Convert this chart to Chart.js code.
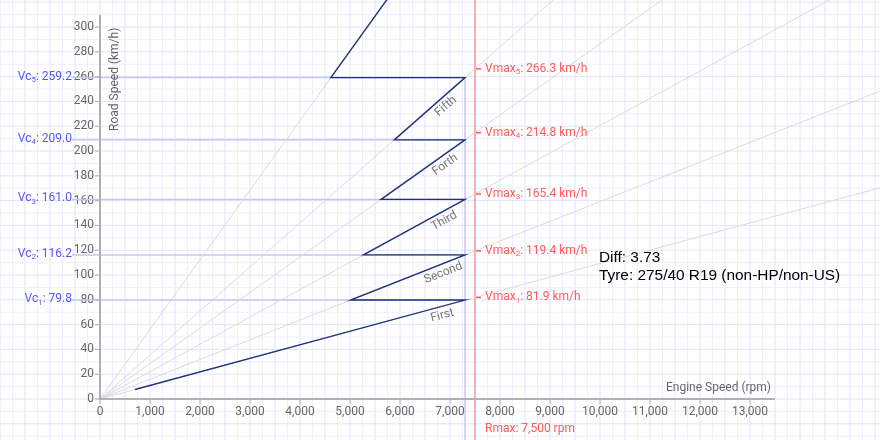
<!DOCTYPE html>
<html>
<head>
<meta charset="utf-8">
<script src="https://cdn.jsdelivr.net/npm/chart.js@4"></script>
<style>
  html, body { margin: 0; padding: 0; background: #fff; }
  canvas { display: block; }
</style>
</head>
<body>
<canvas id="chart" width="880" height="440"></canvas>
<script>
// gearing data
const gearNames = ['First', 'Second', 'Third', 'Forth', 'Fifth', 'Sixth'];
const vmaxKmh = [81.9, 119.4, 165.4, 214.8, 266.3, 421.0];   // road speed at redline per gear
const shiftSpeeds = [79.8, 116.2, 161.0, 209.0, 259.2];      // Vc: speed at each upshift
const idleRpm = 700;
const shiftRpm = 7300;
const redlineRpm = 7500;
const xTicks = [0, 1000, 2000, 3000, 4000, 5000, 6000, 7000, 8000, 9000, 10000, 11000, 12000, 13000];
const yTicks = [0, 20, 40, 60, 80, 100, 120, 140, 160, 180, 200, 220, 240, 260, 280, 300];
const xAxisEnd = 13500;
const yAxisEnd = 310;
const diffRatio = 3.73;
const tyreSpec = '275/40 R19 (non-HP/non-US)';

const FONT = 'Roboto, "Noto Sans", sans-serif';
const NAVY = '#22337c';
const RED = '#ff5a5a';
const BLUE = '#5656f2';

// km/h per rpm for each gear
const kmhPerRpm = vmaxKmh.map(v => v / redlineRpm);

// the sawtooth: up each gear to the shift point, across to the next gear
function buildSawtooth() {
	const pts = [{x: idleRpm, y: kmhPerRpm[0] * idleRpm}];
	shiftSpeeds.forEach((v, i) => {
		pts.push({x: shiftRpm, y: v});
		pts.push({x: v / kmhPerRpm[i + 1], y: v});
	});
	const last = kmhPerRpm.length - 1;
	pts.push({x: shiftRpm, y: kmhPerRpm[last] * shiftRpm});
	return pts;
}

const xMax = 15600;
const yMax = 321.8;

const ratioSets = kmhPerRpm.map(k => ({
	data: [{x: 0, y: 0}, {x: xMax, y: k * xMax}],
	showLine: true,
	borderColor: '#dadada',
	borderWidth: 1,
	pointRadius: 0,
	order: 2
}));

const gearSet = {
	data: buildSawtooth(),
	showLine: true,
	borderColor: NAVY,
	borderWidth: 1.4,
	pointRadius: 0,
	tension: 0,
	order: 1
};

// text with a subscript in the middle, e.g. Vmax₅: 266.3 km/h
function drawSubText(ctx, main, sub, rest, x, y, align) {
	ctx.font = '12px ' + FONT;
	const w1 = ctx.measureText(main).width;
	const w3 = ctx.measureText(rest).width;
	ctx.font = '8px ' + FONT;
	const w2 = ctx.measureText(sub).width;
	let cx = align === 'right' ? x - (w1 + w2 + w3) : x;
	ctx.textAlign = 'left';
	ctx.textBaseline = 'middle';
	ctx.font = '12px ' + FONT;
	ctx.fillText(main, cx, y);
	cx += w1;
	ctx.font = '8px ' + FONT;
	ctx.fillText(sub, cx, y + 3.5);
	cx += w2;
	ctx.font = '12px ' + FONT;
	ctx.fillText(rest, cx, y);
}

const paperPlugin = {
	id: 'paper',
	beforeDraw(chart) {
		const ctx = chart.ctx, xs = chart.scales.x, ys = chart.scales.y;
		ctx.save();
		ctx.fillStyle = '#fff';
		ctx.fillRect(0, 0, chart.width, chart.height);
		ctx.lineWidth = 1;
		for (let r = -2500; r <= 16000; r += 250) {
			const px = xs.getPixelForValue(r);
			ctx.strokeStyle = (r % 500 === 0) ? '#e3e3fb' : '#eeeefd';
			ctx.beginPath();
			ctx.moveTo(px, 0);
			ctx.lineTo(px, chart.height);
			ctx.stroke();
		}
		for (let v = -50; v <= 340; v += 10) {
			const py = ys.getPixelForValue(v);
			ctx.strokeStyle = (v % 20 === 0) ? '#e3e3fb' : '#eeeefd';
			ctx.beginPath();
			ctx.moveTo(0, py);
			ctx.lineTo(chart.width, py);
			ctx.stroke();
		}
		ctx.restore();
	},
	beforeDatasetsDraw(chart) {
		const ctx = chart.ctx, xs = chart.scales.x, ys = chart.scales.y;
		const xShift = xs.getPixelForValue(shiftRpm);
		ctx.save();
		// Vc lines and the shift rpm line
		ctx.strokeStyle = '#c6c6f6';
		ctx.lineWidth = 1.5;
		shiftSpeeds.forEach(v => {
			const py = ys.getPixelForValue(v);
			ctx.beginPath();
			ctx.moveTo(xs.left - 28, py);
			ctx.lineTo(xShift, py);
			ctx.stroke();
		});
		ctx.beginPath();
		ctx.moveTo(xShift, ys.getPixelForValue(shiftSpeeds[shiftSpeeds.length - 1]));
		ctx.lineTo(xShift, chart.height);
		ctx.stroke();
		// redline
		const xRed = xs.getPixelForValue(redlineRpm);
		ctx.strokeStyle = 'rgba(255, 90, 90, 0.45)';
		ctx.lineWidth = 2;
		ctx.beginPath();
		ctx.moveTo(xRed, 0);
		ctx.lineTo(xRed, chart.height);
		ctx.stroke();
		ctx.restore();
	},
	afterDatasetsDraw(chart) {
		const ctx = chart.ctx, xs = chart.scales.x, ys = chart.scales.y;
		const x0 = xs.getPixelForValue(0), y0 = ys.getPixelForValue(0);
		ctx.save();

		// axes
		ctx.strokeStyle = '#b0b0b4';
		ctx.lineWidth = 2;
		ctx.beginPath();
		ctx.moveTo(x0, ys.getPixelForValue(yAxisEnd));
		ctx.lineTo(x0, y0);
		ctx.lineTo(xs.getPixelForValue(xAxisEnd), y0);
		ctx.stroke();
		ctx.lineWidth = 1;
		xTicks.forEach(t => {
			const px = xs.getPixelForValue(t);
			ctx.beginPath();
			ctx.moveTo(px, y0);
			ctx.lineTo(px, y0 + 5);
			ctx.stroke();
		});
		yTicks.forEach(t => {
			const py = ys.getPixelForValue(t);
			ctx.beginPath();
			ctx.moveTo(x0 - 5, py);
			ctx.lineTo(x0, py);
			ctx.stroke();
		});

		// axis titles
		ctx.fillStyle = '#666';
		ctx.font = '12px ' + FONT;
		ctx.textAlign = 'right';
		ctx.textBaseline = 'middle';
		ctx.fillText('Engine Speed (rpm)', xs.getPixelForValue(xAxisEnd) - 4, y0 - 11);
		ctx.save();
		ctx.translate(x0 + 15, ys.getPixelForValue(yAxisEnd) + 13);
		ctx.rotate(-Math.PI / 2);
		ctx.fillText('Road Speed (km/h)', 0, 0);
		ctx.restore();

		// Vc labels
		ctx.fillStyle = BLUE;
		shiftSpeeds.forEach((v, i) => {
			drawSubText(ctx, 'Vc', String(i + 1), ': ' + v.toFixed(1), x0 - 28, ys.getPixelForValue(v) - 1, 'right');
		});

		// Vmax labels at redline
		const xRed = xs.getPixelForValue(redlineRpm);
		ctx.fillStyle = RED;
		ctx.strokeStyle = RED;
		ctx.lineWidth = 1.5;
		shiftSpeeds.forEach((s, i) => {
			const v = vmaxKmh[i];
			const py = ys.getPixelForValue(v);
			ctx.beginPath();
			ctx.moveTo(xRed + 1, py);
			ctx.lineTo(xRed + 6, py);
			ctx.stroke();
			drawSubText(ctx, 'Vmax', String(i + 1), ': ' + v.toFixed(1) + ' km/h', xRed + 10, py, 'left');
		});
		ctx.font = '12px ' + FONT;
		ctx.textAlign = 'left';
		ctx.textBaseline = 'middle';
		ctx.fillText('Rmax: ' + redlineRpm.toLocaleString('en-US') + ' rpm', xRed + 10, y0 + 30);

		// gear names along each gear line
		ctx.fillStyle = '#777';
		ctx.font = '12px ' + FONT;
		ctx.textAlign = 'center';
		shiftSpeeds.forEach((s, i) => {
			const rpm = 6800;
			const px = xs.getPixelForValue(rpm), py = ys.getPixelForValue(kmhPerRpm[i] * rpm);
			const ang = Math.atan2(ys.getPixelForValue(kmhPerRpm[i] * (rpm + 1000)) - py,
				xs.getPixelForValue(rpm + 1000) - px);
			ctx.save();
			ctx.translate(px, py);
			ctx.rotate(ang);
			ctx.fillText(gearNames[i], 0, 9);
			ctx.restore();
		});

		// setup notes
		ctx.fillStyle = '#000';
		ctx.font = '15.4px "Liberation Sans", Arial, sans-serif';
		ctx.textAlign = 'left';
		ctx.textBaseline = 'alphabetic';
		ctx.fillText('Diff: ' + diffRatio.toFixed(2), 599, 262);
		ctx.fillText('Tyre: ' + tyreSpec, 599, 280);

		ctx.restore();
	}
};

new Chart(document.getElementById('chart'), {
	type: 'scatter',
	data: {datasets: [gearSet, ...ratioSets]},
	options: {
		responsive: false,
		animation: false,
		layout: {padding: 0},
		plugins: {
			legend: {display: false},
			tooltip: {enabled: false}
		},
		scales: {
			x: {
				type: 'linear',
				min: 0,
				max: xMax,
				grid: {display: false, drawTicks: false},
				border: {display: false},
				ticks: {
					padding: 6,
					color: '#666',
					font: {family: FONT, size: 12},
					autoSkip: false,
					maxRotation: 0,
					callback: v => v.toLocaleString('en-US')
				},
				afterBuildTicks: s => { s.ticks = xTicks.map(v => ({value: v})); },
				afterFit: s => { s.height = 41; s.paddingLeft = 0; s.paddingRight = 0; }
			},
			y: {
				type: 'linear',
				min: 0,
				max: yMax,
				grid: {display: false, drawTicks: false},
				border: {display: false},
				ticks: {
					padding: 6,
					color: '#666',
					font: {family: FONT, size: 12},
					autoSkip: false,
					callback: v => String(v)
				},
				afterBuildTicks: s => { s.ticks = yTicks.map(v => ({value: v})); },
				afterFit: s => { s.width = 100; s.paddingTop = 0; s.paddingBottom = 0; }
			}
		}
	},
	plugins: [paperPlugin]
});
</script>
</body>
</html>
